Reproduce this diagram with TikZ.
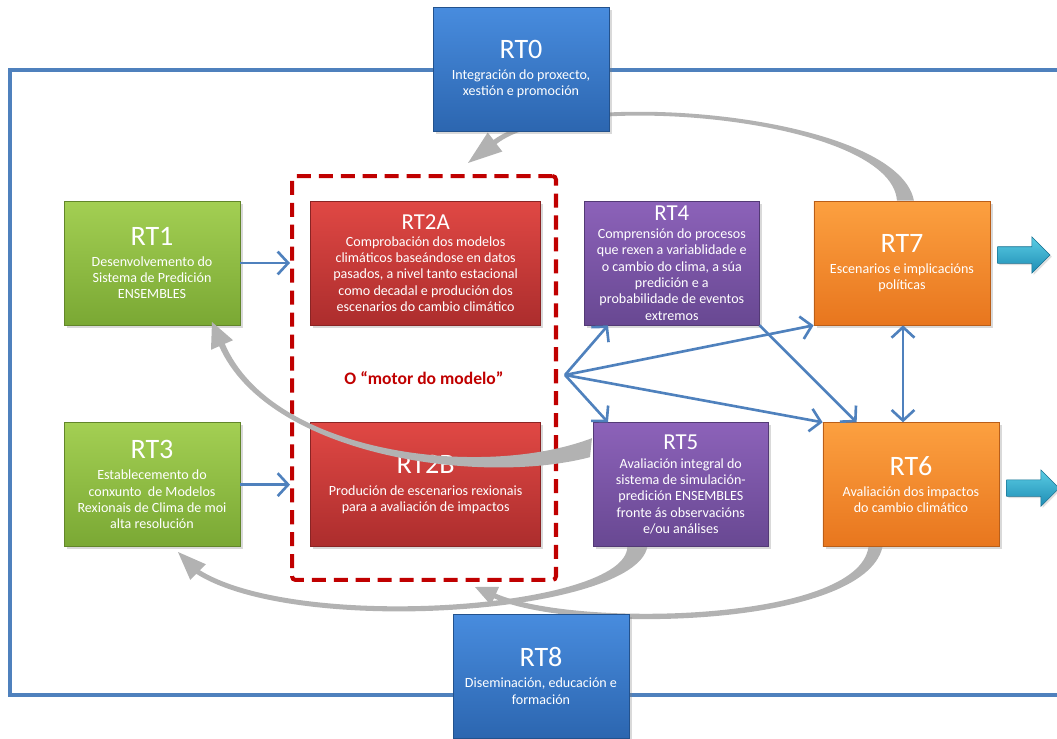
\documentclass[tikz,border=0pt]{standalone}
\usepackage{fontspec}
\setmainfont{Carlito}
\usepackage{tikz}
\usetikzlibrary{positioning, arrows.meta, calc, shadows, shapes.arrows}
\definecolor{blueT}{RGB}{72,140,222}
\definecolor{blueB}{RGB}{44,102,176}
\definecolor{greenT}{RGB}{163,207,83}
\definecolor{greenB}{RGB}{122,168,52}
\definecolor{redT}{RGB}{224,72,68}
\definecolor{redB}{RGB}{172,45,45}
\definecolor{purpleT}{RGB}{140,98,185}
\definecolor{purpleB}{RGB}{104,72,146}
\definecolor{orangeT}{RGB}{252,160,64}
\definecolor{orangeB}{RGB}{232,118,30}
\definecolor{cyanT}{RGB}{90,205,228}
\definecolor{cyanB}{RGB}{30,140,180}
\definecolor{connblue}{RGB}{79,129,189}
\definecolor{motorred}{RGB}{192,0,0}
\newcommand{\rtbig}[1]{{\fontsize{16}{16}\selectfont #1}}
\newcommand{\rtsmall}[1]{{\fontsize{13}{13}\selectfont #1}}
\tikzset{
  rtbox/.style={
    minimum width=3.52cm, minimum height=2.48cm, inner sep=0pt,
    align=center, text=white, font=\fontsize{8}{9.3}\selectfont,
    line width=0.4pt,
    drop shadow={opacity=0.3, shadow xshift=1.5pt, shadow yshift=-1.5pt},
  },
  rtblue/.style={rtbox, top color=blueT, bottom color=blueB, draw=blueB!80!black},
  rtgreen/.style={rtbox, top color=greenT, bottom color=greenB, draw=greenB!80!black},
  rtred/.style={rtbox, top color=redT, bottom color=redB, draw=redB!80!black},
  rtpurple/.style={rtbox, top color=purpleT, bottom color=purpleB, draw=purpleB!80!black},
  rtorange/.style={rtbox, top color=orangeT, bottom color=orangeB, draw=orangeB!80!black},
  barb/.tip={Straight Barb[length=6pt, width=13pt]},
  conn/.style={draw=connblue, line width=1.5pt, -barb},
  grayarr/.style={fill=black!30, draw=none},
  motorbox/.style={draw=motorred, line width=2.3pt, dash pattern=on 8pt off 4.5pt,
    rounded corners=2pt, minimum width=5.28cm, minimum height=8.08cm},
  motorlabel/.style={text=motorred, font=\fontsize{10}{12}\selectfont\bfseries},
  outarrow/.style={single arrow, single arrow head extend=0.2cm, minimum height=1.05cm,
    inner xsep=0pt, inner ysep=0.16cm, top color=cyanT, bottom color=cyanB,
    draw=cyanB!80!black, line width=0.3pt,
    drop shadow={opacity=0.25, shadow xshift=1pt, shadow yshift=-1pt}},
  frameline/.style={draw=connblue, line width=1.9pt},
}

\begin{document}
\begin{tikzpicture}[x=0.02cm, y=0.02cm]
\useasboundingbox (0,0) rectangle (1057,738);
\clip (0,0) rectangle (1057,738);

% outer frame
\draw[frameline] (10,43) rectangle (1090,668);

% the model engine
\node[motorbox] (motor) at (424,360) {};
\node[motorlabel] (motorlbl) at (motor.center) {O “motor do modelo”};

% work packages
\node[rtgreen] (rt1) at (152,475) {\rtbig{RT1}\\[2.7pt]Desenvolvemento do\\Sistema de Predición\\ENSEMBLES};
\node[rtred, minimum width=4.6cm, right=1.4cm of rt1] (rt2a) {\rtsmall{RT2A}\\[0.5pt]Comprobación dos modelos\\climáticos baseándose en datos\\pasados, a nivel tanto estacional\\como decadal e produción dos\\escenarios do cambio climático};
\node[rtpurple, minimum width=3.5cm, right=0.86cm of rt2a] (rt4) {\rtsmall{RT4}\\[1pt]Comprensión do procesos\\que rexen a variablidade e\\o cambio do clima, a súa\\predición e a\\probabilidade de eventos\\extremos};
\node[rtorange, right=1.08cm of rt4] (rt7) {\rtbig{RT7}\\[2.7pt]Escenarios e implicacións\\políticas};
\node[rtgreen, below=1.94cm of rt1] (rt3) {\rtbig{RT3}\\[2.7pt]Establecemento do\\conxunto\ \ de Modelos\\Rexionais de Clima de moi\\alta resolución};
\node[rtred, minimum width=4.6cm, below=1.94cm of rt2a] (rt2b) {\rtbig{RT2B}\\[2.7pt]Produción de escenarios rexionais\\para a avaliación de impactos};
\node[rtpurple, minimum width=3.5cm, right=1.04cm of rt2b] (rt5) {\rtsmall{RT5}\\[1pt]Avaliación integral do\\sistema de simulación-\\predición ENSEMBLES\\fronte ás observacións\\e/ou análises};
\node[rtorange, right=1.08cm of rt5] (rt6) {\rtbig{RT6}\\[2.7pt]Avaliación dos impactos\\do cambio climático};

% feedback to the engine, behind RT0
\fill[grayarr] ($(rt7.north)+(-5,0)$) .. controls (891,621) and (566,649) .. (496.5,594)
  -- (502.3,586.5) -- (468,575) -- (487.7,605.5) -- (493.5,598)
  .. controls (566,653) and (897,625) .. ($(rt7.north)+(12,0)$) -- cycle;

\node[rtblue] (rt0) at (521,669) {\rtbig{RT0}\\[2.7pt]Integración do proxecto,\\xestión e promoción};

% connectors
\draw[conn] (rt1.east) -- (rt1.east -| motor.west);
\draw[conn] (rt3.east) -- (rt3.east -| motor.west);
\coordinate (hub) at (565,363);
\draw[conn] (hub) -- ($(rt4.south west)+(24,0)$);
\draw[conn] (hub) -- ($(rt5.north west)+(15,0)$);
\draw[conn] (hub) -- (rt7.south west);
\draw[conn] (hub) -- (rt6.north west);
\draw[conn] (rt4.south east) -- ($(rt6.north west)+(34,0)$);
\coordinate (link76) at (903,363);
\draw[conn, barb-barb] (rt7.south -| link76) -- (rt6.north -| link76);

% gray feedback arrows
\fill[grayarr] ($(rt5.west)+(-1,46.5)$) .. controls (482,258) and (272,284) .. (224.8,394.2)
  -- (233,397.8) -- (212,416) -- (211,388.2) -- (219.2,391.8)
  .. controls (268,282) and (480,252) .. ($(rt5.west)+(-3,27.5)$) -- cycle;
\fill[grayarr] ($(rt5.south)+(-53.5,0)$) .. controls (626,130) and (300,106) .. (199.8,167.8)
  -- (205.8,173.8) -- (178,186) -- (190.2,158.2) -- (196.2,164.2)
  .. controls (298,100) and (634,124) .. ($(rt5.south)+(-33.5,0)$) -- cycle;
\fill[grayarr] ($(rt6.south)+(-42.5,0)$) .. controls (858,116) and (575,110) .. (496,144.3)
  -- (499.1,151.1) -- (475,151) -- (490.9,132.9) -- (494,139.7)
  .. controls (575,104) and (864,110) .. ($(rt6.south)+(-28.5,0)$) -- cycle;

\node[rtblue] (rt8) at (541,62) {\rtbig{RT8}\\[2.7pt]Diseminación, educación e\\formación};

% outputs
\node[outarrow, right=0.14cm of rt7.east, yshift=0.16cm] (out7) {};
\node[outarrow, right=0.14cm of rt6.east, yshift=-0.07cm] (out6) {};

\end{tikzpicture}
\end{document}
